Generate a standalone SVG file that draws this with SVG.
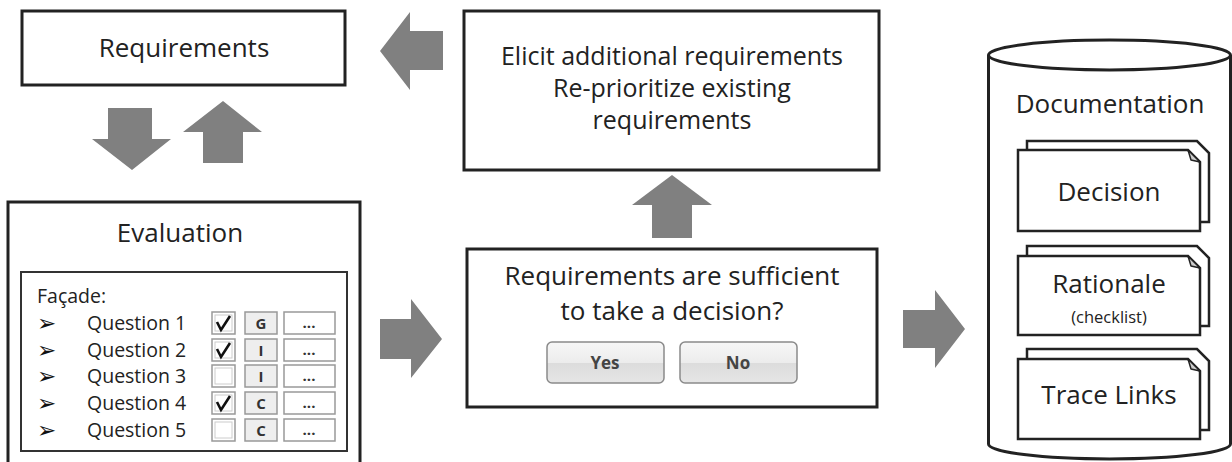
<svg xmlns="http://www.w3.org/2000/svg" width="1232" height="462" viewBox="0 0 1232 462">
<defs>
<linearGradient id="btn" x1="0" y1="0" x2="0" y2="1">
<stop offset="0" stop-color="#f7f7f7"/>
<stop offset="0.5" stop-color="#ececec"/>
<stop offset="0.52" stop-color="#dcdcdc"/>
<stop offset="1" stop-color="#e6e6e6"/>
</linearGradient>
<style>
.box{fill:#fff;stroke:#222;stroke-width:3}
.inner{fill:#fff;stroke:#333;stroke-width:2}
.t{font-family:"Open Sans","Noto Sans",sans-serif;fill:#222;text-anchor:middle}
.big{font-size:26px}
.mid{font-size:25px}
.q{font-family:"Open Sans","Noto Sans",sans-serif;fill:#222;font-size:19.5px}
.bul{font-family:"DejaVu Sans",sans-serif;fill:#111;font-size:23px}
.cb{fill:#fff;stroke:#999;stroke-width:1.5}
.cbi{fill:none;stroke:#ccc;stroke-width:1}
.gb{fill:#eee;stroke:#999;stroke-width:1.5}
.db{fill:#fff;stroke:#999;stroke-width:1.5}
.gl{font-family:"Open Sans","Noto Sans",sans-serif;font-weight:bold;font-size:15px;fill:#333;text-anchor:middle}
.chk{fill:none;stroke:#111;stroke-width:2.6;stroke-linejoin:miter}
.arr{fill:#808080}
.page{fill:#fff;stroke:#222;stroke-width:2.5;stroke-linejoin:miter}
.fold{fill:#ccc;stroke:#222;stroke-width:1.5;stroke-linejoin:round}
.btn{fill:url(#btn);stroke:#8a8a8a;stroke-width:1.5}
.bt{font-family:"Open Sans","Noto Sans",sans-serif;font-weight:bold;font-size:17px;fill:#444;text-anchor:middle}
</style>
</defs>
<rect width="1232" height="462" fill="#fff"/>

<g id="connectors">
<polygon class="arr" points="380,51 410,12 410,31 443,31 443,70 410,70 410,90"/>
<polygon class="arr" points="108,108 152,108 152,139 171,139 132,170 92,139 108,139"/>
<polygon class="arr" points="223,101 262,132 243,132 243,163 203,163 203,132 183,132"/>
<polygon class="arr" points="672,175 712,205 692,205 692,238 652,238 652,205 632,205"/>
<polygon class="arr" points="380,319 411,319 411,299 442,339 411,378 411,359 380,359"/>
<polygon class="arr" points="903,310 935,310 935,290 965,329 935,368 935,348 903,348"/>
</g>

<g id="requirements">
<rect class="box" x="22" y="11" width="323" height="74"/>
<text class="t big" x="184" y="57">Requirements</text>
</g>

<g id="elicit">
<rect class="box" x="464" y="11" width="415" height="159"/>
<text class="t mid" x="672" y="65">Elicit additional requirements</text>
<text class="t mid" x="672" y="97">Re-prioritize existing</text>
<text class="t mid" x="672" y="129">requirements</text>
</g>

<g id="evaluation">
<rect class="box" x="8" y="202" width="352" height="300"/>
<text class="t big" x="180" y="242">Evaluation</text>
<rect class="inner" x="21" y="272" width="326" height="179"/>
<text class="q" x="37" y="303" font-size="20">Façade:</text>
<g id="row1">
<text class="bul" x="37" y="331">➢</text>
<text class="q" x="87" y="330">Question 1</text>
<rect class="cb" x="212" y="312" width="23" height="22"/><rect class="cbi" x="215" y="315" width="17" height="16"/>
<polyline class="chk" points="217,322 221,330 230,316"/>
<rect class="gb" x="245" y="312" width="32" height="22"/><text class="gl" x="261" y="329">G</text>
<rect class="db" x="284" y="312" width="51" height="22"/><text class="gl" x="309" y="328">...</text>
</g>
<g id="row2">
<text class="bul" x="37" y="358">➢</text>
<text class="q" x="87" y="357">Question 2</text>
<rect class="cb" x="212" y="339" width="23" height="22"/><rect class="cbi" x="215" y="342" width="17" height="16"/>
<polyline class="chk" points="217,349 221,357 230,343"/>
<rect class="gb" x="245" y="339" width="32" height="22"/><text class="gl" x="261" y="356">I</text>
<rect class="db" x="284" y="339" width="51" height="22"/><text class="gl" x="309" y="355">...</text>
</g>
<g id="row3">
<text class="bul" x="37" y="384">➢</text>
<text class="q" x="87" y="383">Question 3</text>
<rect class="cb" x="212" y="365" width="23" height="22"/><rect class="cbi" x="215" y="368" width="17" height="16"/>
<rect class="gb" x="245" y="365" width="32" height="22"/><text class="gl" x="261" y="382">I</text>
<rect class="db" x="284" y="365" width="51" height="22"/><text class="gl" x="309" y="381">...</text>
</g>
<g id="row4">
<text class="bul" x="37" y="411">➢</text>
<text class="q" x="87" y="410">Question 4</text>
<rect class="cb" x="212" y="392" width="23" height="22"/><rect class="cbi" x="215" y="395" width="17" height="16"/>
<polyline class="chk" points="217,402 221,410 230,396"/>
<rect class="gb" x="245" y="392" width="32" height="22"/><text class="gl" x="261" y="409">C</text>
<rect class="db" x="284" y="392" width="51" height="22"/><text class="gl" x="309" y="408">...</text>
</g>
<g id="row5">
<text class="bul" x="37" y="438">➢</text>
<text class="q" x="87" y="437">Question 5</text>
<rect class="cb" x="212" y="419" width="23" height="22"/><rect class="cbi" x="215" y="422" width="17" height="16"/>
<rect class="gb" x="245" y="419" width="32" height="22"/><text class="gl" x="261" y="436">C</text>
<rect class="db" x="284" y="419" width="51" height="22"/><text class="gl" x="309" y="435">...</text>
</g>
</g>

<g id="decision-question">
<rect class="box" x="467" y="249" width="410" height="158"/>
<text class="t big" x="672" y="285">Requirements are sufficient</text>
<text class="t big" x="672" y="320">to take a decision?</text>
<rect class="btn" x="547" y="342" width="117" height="41" rx="5"/>
<text class="bt" x="605" y="369">Yes</text>
<rect class="btn" x="680" y="342" width="117" height="41" rx="5"/>
<text class="bt" x="738" y="369">No</text>
</g>

<g id="documentation">
<path class="box" d="M988.5,55 L988.5,444 A121,15 0 0 0 1230.5,444 L1230.5,55"/>
<ellipse class="box" cx="1109.5" cy="55" rx="121" ry="15"/>
<text class="t big" x="1110" y="113">Documentation</text>
<g id="doc-decision">
<path class="page" d="M1027,141 L1197,141 L1209,153 L1209,222 L1027,222 Z"/>
<path class="page" d="M1018,150 L1188,150 L1200,162 L1200,231 L1018,231 Z"/>
<path class="fold" d="M1188,150 L1191,160 L1200,162 Z"/>
<text class="t big" x="1109" y="201">Decision</text>
</g>
<g id="doc-rationale">
<path class="page" d="M1027,246 L1197,246 L1209,258 L1209,326 L1027,326 Z"/>
<path class="page" d="M1018,256 L1188,256 L1200,268 L1200,335 L1018,335 Z"/>
<path class="fold" d="M1188,256 L1191,266 L1200,268 Z"/>
<text class="t big" x="1109" y="293">Rationale</text>
<text class="t" x="1109" y="323" font-size="16.5">(checklist)</text>
</g>
<g id="doc-trace">
<path class="page" d="M1027,349 L1197,349 L1209,361 L1209,430 L1027,430 Z"/>
<path class="page" d="M1018,359 L1188,359 L1200,371 L1200,439 L1018,439 Z"/>
<path class="fold" d="M1188,359 L1191,369 L1200,371 Z"/>
<text class="t big" x="1109" y="404">Trace Links</text>
</g>
</g>
</svg>
